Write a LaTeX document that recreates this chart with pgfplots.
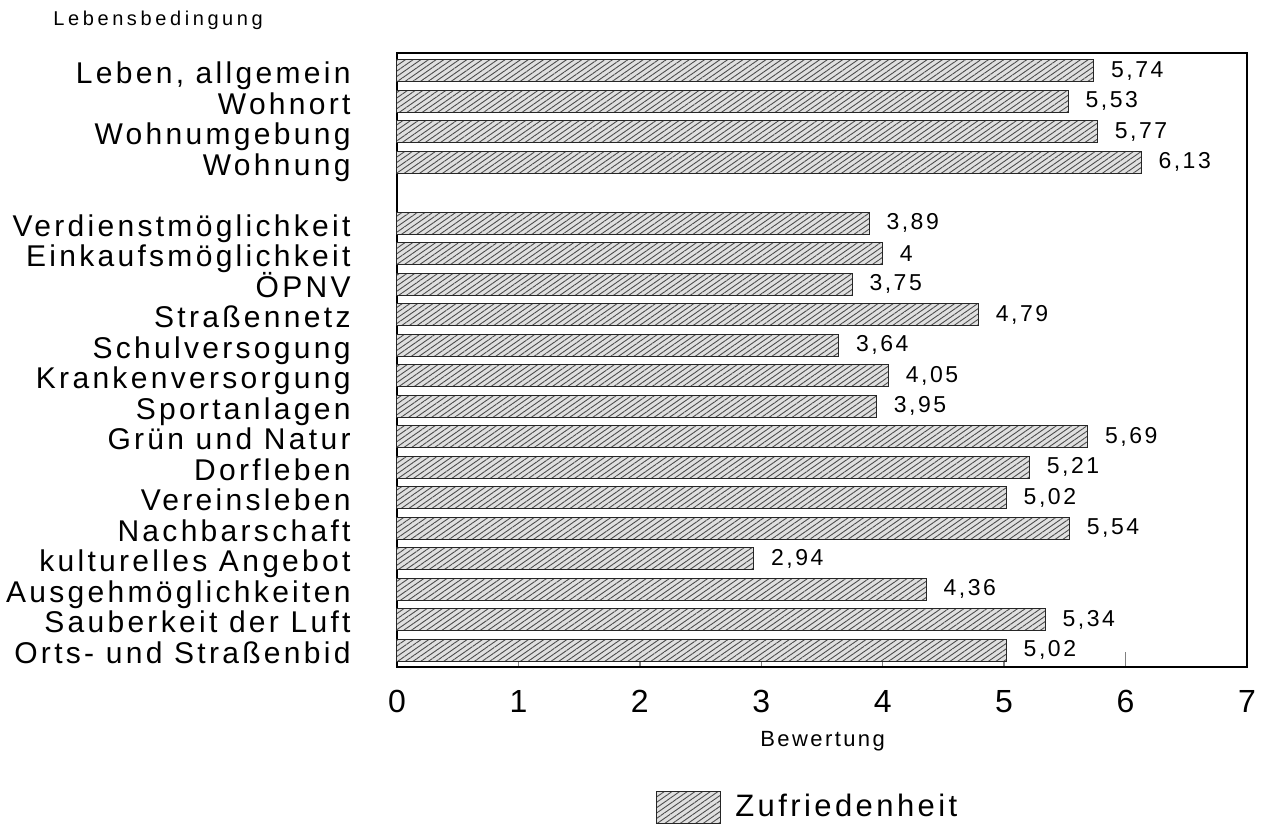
\documentclass[border=0pt]{standalone}
\usepackage{fontspec}
\setmainfont{Liberation Sans}[LetterSpace=11]
\newfontfamily\widefont{Liberation Sans}[LetterSpace=18]
\usepackage{pgfplots}
\usepackage{pgfplotstable}
\pgfplotsset{compat=1.18}
\usetikzlibrary{patterns.meta}

\pgfplotstableread{
y x lab
0 5.74 5,74
1 5.53 5,53
2 5.77 5,77
3 6.13 6,13
5 3.89 3,89
6 4.00 4
7 3.75 3,75
8 4.79 4,79
9 3.64 3,64
10 4.05 4,05
11 3.95 3,95
12 5.69 5,69
13 5.21 5,21
14 5.02 5,02
15 5.54 5,54
16 2.94 2,94
17 4.36 4,36
18 5.34 5,34
19 5.02 5,02
}\data

\begin{document}
\begin{tikzpicture}
\path[use as bounding box] (-198.5pt,-80pt) rectangle (436pt,333.5pt);
\begin{axis}[
  at={(0pt,0pt)}, anchor=south west,
  scale only axis, width=425pt, height=307pt,
  xmin=0, xmax=7, ymin=-0.58, ymax=19.55, y dir=reverse,
  enlargelimits=false, clip=false,
  axis line style={line width=1pt},
  tick align=inside, xtick pos=left, ytick pos=left,
  xtick={0,1,2,3,4,5,6,7},
  xticklabels={0,1,2,3,4,5,6,7},
  xtick style={line width=0.7pt, /pgfplots/major tick length=7.5pt},
  ytick style={line width=0.6pt, /pgfplots/major tick length=4pt},
  xticklabel style={anchor=base, yshift=-22.5pt, font=\fontsize{16}{18}\selectfont},
  ytick={0,1,2,3,5,6,7,8,9,10,11,12,13,14,15,16,17,18,19},
  yticklabels={Leben\char"2C\ allgemein,Wohnort,Wohnumgebung,Wohnung,Verdienstmöglichkeit,Einkaufsmöglichkeit,ÖPNV,Straßennetz,Schulversogung,Krankenversorgung,Sportanlagen,Grün und Natur,Dorfleben,Vereinsleben,Nachbarschaft,kulturelles Angebot,Ausgehmöglichkeiten,Sauberkeit der Luft,Orts- und Straßenbid},
  yticklabel style={anchor=base east, inner sep=0pt, xshift=-23pt, yshift=-6.5pt, font=\fontsize{15}{17}\selectfont},
  xlabel={Bewertung},
  xlabel style={at={(axis description cs:0.427,-0.130)}, anchor=base west, inner sep=0pt, font=\fontsize{11}{13}\selectfont},
  legend image code/.code={\draw[#1] (0pt,-8pt) rectangle (32pt,8pt);},
  legend style={at={(axis description cs:0.3047,-0.228)}, anchor=west, draw=none, fill=none, inner sep=0pt, font=\fontsize{15.5}{17}\selectfont},
  legend cell align=left,
]
\addplot[xbar, bar width=0.72, fill=black!12, draw=black!85, line width=0.5pt,
  postaction={pattern={Lines[angle=35,distance=2.2pt,line width=0.45pt]}, pattern color=black!70},
  point meta=explicit symbolic,
  nodes near coords,
  nodes near coords style={anchor=west, xshift=5pt, font=\fontsize{11.5}{13}\selectfont, text=black},
] table[x=x, y=y, meta=lab] {\data};
\addlegendentry{\hspace*{5pt}Zufriedenheit}
\end{axis}
\node[anchor=base west, inner sep=0pt, font=\widefont\fontsize{10}{12}\selectfont] at (-172pt,321pt) {Lebensbedingung};
\end{tikzpicture}
\end{document}
